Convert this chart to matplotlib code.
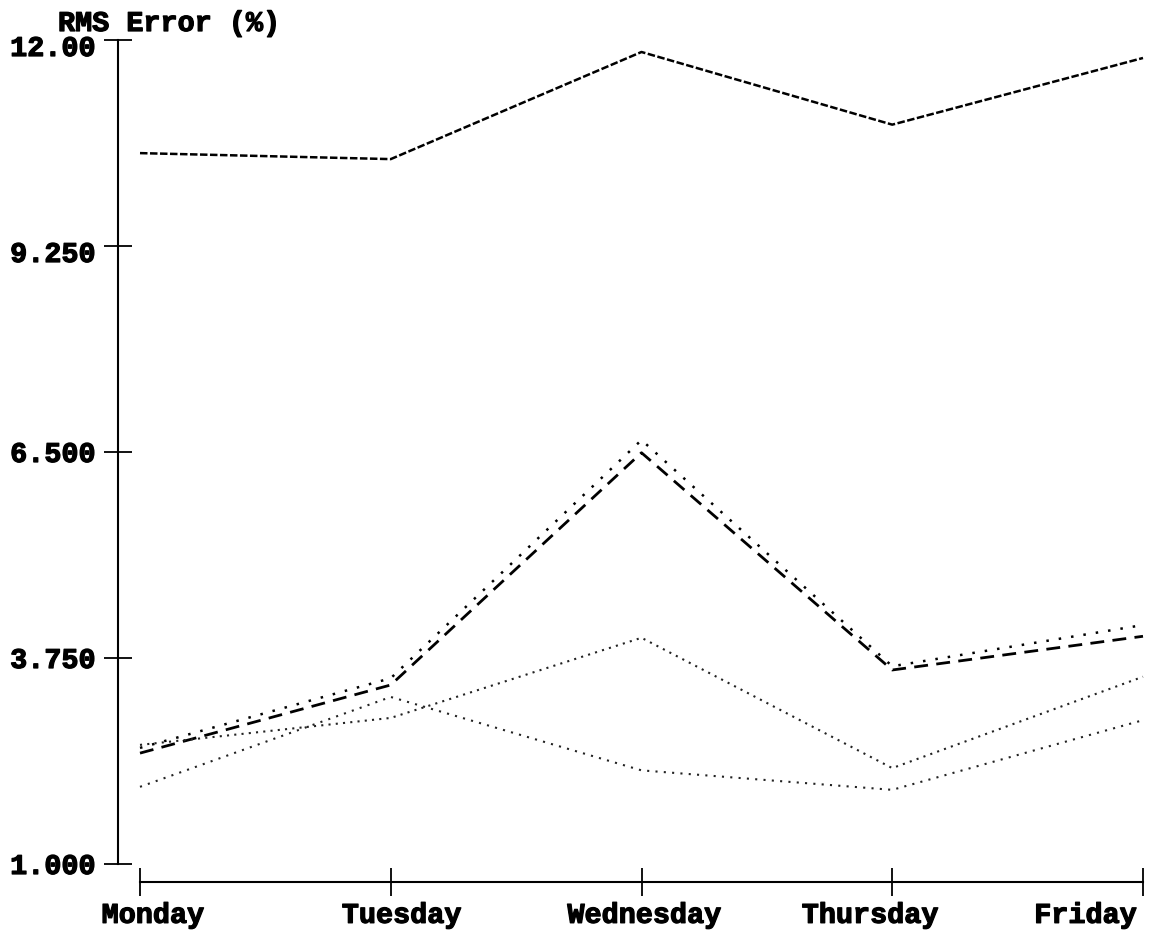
import matplotlib
matplotlib.use("Agg")
from matplotlib import pyplot as plt
from matplotlib import transforms
from matplotlib import patheffects

days = ["Monday", "Tuesday", "Wednesday", "Thursday", "Friday"]
y_ticks = [1.0, 3.75, 6.5, 9.25, 12.0]
y_tick_labels = ["1.000", "3.750", "6.500", "9.250", "12.00"]

serie_top = [10.49, 10.41, 11.84, 10.87, 11.76]
serie_punteada = [2.55, 3.48, 6.66, 3.64, 4.19]
serie_guiones = [2.48, 3.39, 6.49, 3.59, 4.04]
serie_a = [2.03, 3.23, 2.25, 1.99, 2.92]
serie_b = [2.59, 2.95, 4.02, 2.28, 3.50]

plt.rcParams['font.family'] = ['Liberation Mono', 'DejaVu Sans']
plt.rcParams['font.weight'] = 'bold'

W, H = 1164, 932
fig = plt.figure(figsize=(W / 100, H / 100), dpi=100)
ax = fig.add_axes([140 / W, (H - 864) / H, (1143 - 140) / W, (864 - 40) / H])

x = list(range(len(days)))
ax.plot(x, serie_top, color='black', lw=1.8, dashes=(3, 1), clip_on=False)
ax.plot(x, serie_punteada, color='black', lw=1.8, dashes=(1, 4), clip_on=False)
ax.plot(x, serie_guiones, color='black', lw=2.0, dashes=(5, 3), clip_on=False)
ax.plot(x, serie_a, color='#222222', lw=1.5, dashes=(1, 3), clip_on=False)
ax.plot(x, serie_b, color='#222222', lw=1.5, dashes=(1, 2.5), clip_on=False)

ax.set_xlim(0, 4)
ax.set_ylim(1, 12)

ax.spines['top'].set_visible(False)
ax.spines['right'].set_visible(False)
ax.spines['left'].set_position(('outward', 22 * 0.72))
ax.spines['bottom'].set_position(('outward', 18 * 0.72))
ax.spines['left'].set_linewidth(1.5)
ax.spines['bottom'].set_linewidth(1.5)

ax.set_xticks(x)
ax.set_xticklabels(days)
ax.set_yticks(y_ticks)
ax.set_yticklabels(y_tick_labels)
ax.tick_params(axis='both', direction='inout', length=20, width=1.3,
               labelsize=20.5, colors='black')
ax.tick_params(axis='x', pad=5)
ax.tick_params(axis='y', pad=6)

# texto mas grueso, como la fuente del original
grueso = [patheffects.withStroke(linewidth=0.9, foreground='black')]

# ajustar posiciones de etiquetas como en la figura original (pixeles)
desplaz_x = [13, 11, 3, -22, -6]
for lab, dx in zip(ax.get_xticklabels(), desplaz_x):
    lab.set_transform(lab.get_transform() + transforms.ScaledTranslation(dx / 100, 0, fig.dpi_scale_trans))
    lab.set_path_effects(grueso)
ax.get_xticklabels()[-1].set_ha('right')

desplaz_y = [0, 0, 0, -6, -6]
for lab, dy in zip(ax.get_yticklabels(), desplaz_y):
    lab.set_transform(lab.get_transform() + transforms.ScaledTranslation(0, dy / 100, fig.dpi_scale_trans))
    lab.set_path_effects(grueso)

fig.text(58 / W, 1 - 24 / H, "RMS Error (%)", fontsize=20.5, fontweight='bold',
         ha='left', va='center', path_effects=grueso)

fig.savefig("out.png", dpi=100)
